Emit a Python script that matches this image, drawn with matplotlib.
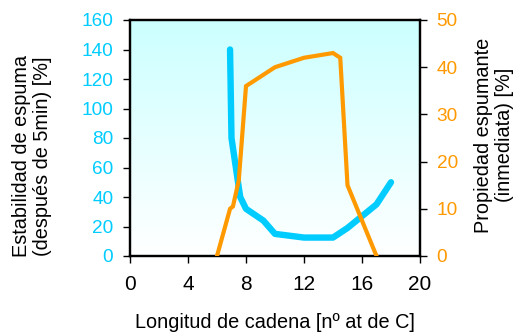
import matplotlib
matplotlib.use("Agg")
import matplotlib.pyplot as plt
import numpy as np

plt.rcParams['font.family'] = ['Liberation Sans', 'DejaVu Sans']

# Foam stability after 5 min (left axis)
chain_stab = [6.9, 7.0, 7.6, 8.0, 9.2, 10.0, 12.0, 14.0, 15.0, 17.0, 18.0]
stability = [140, 80, 40, 32, 24, 15, 12.5, 12.5, 19, 35, 50]

# Immediate foaming property (right axis)
chain_foam = [6.0, 6.9, 7.1, 7.5, 8.0, 10.0, 12.0, 14.0, 14.5, 15.0, 17.0]
foaming = [0, 10, 10.5, 16, 36, 40, 42, 43, 42, 15, 0]

x_ticks = [0, 4, 8, 12, 16, 20]
left_ticks = [0, 20, 40, 60, 80, 100, 120, 140, 160]
right_ticks = [0, 10, 20, 30, 40, 50]

BLUE = '#00ccff'
ORANGE = '#ff9900'

W, H = 521, 334
fig = plt.figure(figsize=(W / 100, H / 100), dpi=100)
ax = fig.add_axes([130 / W, 1 - 256 / H, 290 / W, 236 / H])

# cyan-to-white vertical gradient background
grad = np.linspace(0, 1, 256).reshape(-1, 1)
cmap = matplotlib.colors.LinearSegmentedColormap.from_list('bg', ['#ffffff', '#ccffff'])
ax.imshow(grad, aspect='auto', cmap=cmap, origin='lower',
          extent=[0, 1, 0, 1], transform=ax.transAxes, zorder=0)

ax.plot(chain_stab, stability, color=BLUE, lw=4.6, solid_capstyle='round',
        solid_joinstyle='round', zorder=3)
ax.set_xlim(0, 20)
ax.set_ylim(0, 160)
ax.set_xticks(x_ticks)
ax.set_yticks(left_ticks)

ax2 = ax.twinx()
ax2.plot(chain_foam, foaming, color=ORANGE, lw=3.0, solid_joinstyle='miter', zorder=4)
ax2.set_ylim(0, 50)
ax2.set_yticks(right_ticks)

for a in (ax, ax2):
    for s in a.spines.values():
        s.set_linewidth(1.6)
        s.set_color('black')

ax.tick_params(axis='x', labelsize=15, length=5, width=1, pad=8.5, colors='black')
ax.tick_params(axis='y', labelsize=13.7, length=5, width=1, pad=7, labelcolor=BLUE)
ax2.tick_params(axis='y', labelsize=13.7, length=5, width=1, pad=7, labelcolor=ORANGE)

# axis titles
fig.text(275 / W, 1 - 328 / H, 'Longitud de cadena [nº at de C]', fontsize=14.3,
         ha='center', va='baseline')
fig.text(32 / W, 1 - 156 / H, 'Estabilidad de espuma\n(después de 5min) [%]',
         fontsize=14.3, rotation=90, ha='center', va='center',
         rotation_mode='anchor', multialignment='center', linespacing=1.15)
fig.text(494 / W, 1 - 135 / H, 'Propiedad espumante\n(inmediata) [%]',
         fontsize=14.3, rotation=90, ha='center', va='center',
         rotation_mode='anchor', multialignment='center', linespacing=1.15)

fig.savefig('out.png', dpi=100)
